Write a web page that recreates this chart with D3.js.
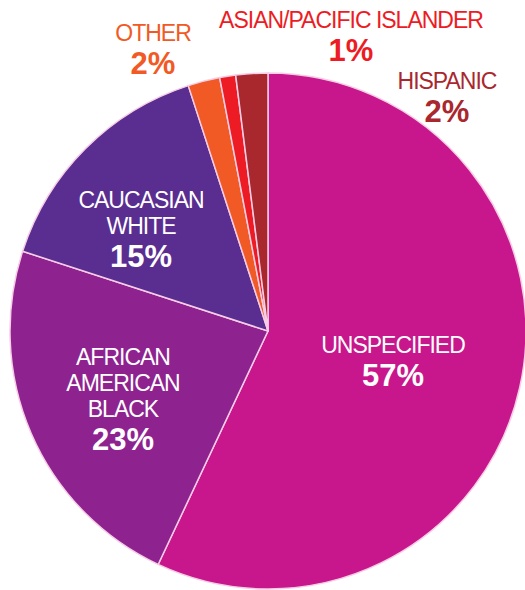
<!DOCTYPE html>
<html>
<head>
<meta charset="utf-8">
<script src="https://cdn.jsdelivr.net/npm/d3@7"></script>
<style>
  html, body { margin: 0; padding: 0; background: #fff; }
  svg { display: block; }
  text { font-family: "Liberation Sans", Arial, sans-serif; }
</style>
</head>
<body>
<div id="chart"></div>
<script>
const width = 525;
const height = 590;

// data, clockwise from 12 o'clock
const categories = ["Unspecified", "African American Black", "Caucasian White", "Other", "Asian/Pacific Islander", "Hispanic"];
const values = [57, 23, 15, 2, 1, 2];
const labelLines = [
  ["UNSPECIFIED"],
  ["AFRICAN", "AMERICAN", "BLACK"],
  ["CAUCASIAN", "WHITE"],
  ["OTHER"],
  ["ASIAN/PACIFIC ISLANDER"],
  ["HISPANIC"]
];

const colors = ["#c8168c", "#8e2390", "#5a2d91", "#f15a24", "#ed1c24", "#a8282e"];
// outside labels get slice colour, inside ones are white
const textColors = ["#fff", "#fff", "#fff", "#f15a24", "#ed1c24", "#a8282e"];

// where each label block sits (x centre, first baseline)
const labelPos = [
  [393, 353],
  [123, 365],
  [141, 208],
  [153, 41],
  [351, 28],
  [447, 89]
];

const cx = 268, cy = 331, radius = 258;

const svg = d3.select("#chart").append("svg")
  .attr("width", width)
  .attr("height", height);

const pie = d3.pie().sort(null).value(d => d);
const arc = d3.arc().innerRadius(0).outerRadius(radius);

const g = svg.append("g").attr("transform", `translate(${cx},${cy})`);

g.selectAll("path")
  .data(pie(values))
  .enter()
  .append("path")
  .attr("d", arc)
  .attr("fill", (d, i) => colors[i])
  .attr("stroke", "#f7cde6")
  .attr("stroke-width", 1.5)
  .attr("stroke-linejoin", "round");

// labels: one text per slice, lines as tspans
categories.forEach((c, i) => {
  const [x, y] = labelPos[i];
  const lines = labelLines[i];
  const t = svg.append("text")
    .attr("x", x)
    .attr("y", y)
    .attr("fill", textColors[i])
    .attr("text-anchor", "middle");
  lines.forEach((ln, j) => {
    t.append("tspan")
      .attr("x", x)
      .attr("y", y + j * 26)
      .attr("font-size", "23px")
      .attr("letter-spacing", "-1px")
      .text(ln);
  });
  t.append("tspan")
    .attr("x", x)
    .attr("y", y + (lines.length - 1) * 26 + 33)
    .attr("font-size", "31px")
    .attr("font-weight", "bold")
    .text(values[i] + "%");
});
</script>
</body>
</html>
